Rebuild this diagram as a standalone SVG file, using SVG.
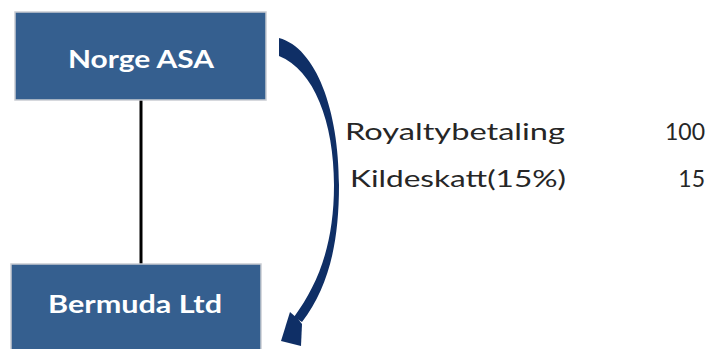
<svg xmlns="http://www.w3.org/2000/svg" width="708" height="349" viewBox="0 0 708 349">
  <style>
    .box { fill: #355f8f; stroke: #c9ccd2; stroke-width: 1.5; }
    .lbl { font-family: "Lato", "Liberation Sans", sans-serif; font-weight: bold; font-size: 24px; fill: #ffffff; text-anchor: middle; }
    .txt { font-family: "Lato", "Liberation Sans", sans-serif; font-size: 23px; fill: #262626; }
    .num { text-anchor: end; }
  </style>
  <rect width="708" height="349" fill="#ffffff"/>

  <g id="connectors">
    <!-- ownership link -->
    <line x1="141" y1="100" x2="141" y2="265" stroke="#000000" stroke-width="3"/>
    <!-- payment arrow: tapered curved stroke -->
    <path d="M279 38 C316 48 339 110 339 185 C339 245 328 288 302 322 L294 317 C318 284 334 245 334 185 C334 122 314 70 279 56 Z" fill="#0f2f66"/>
    <polygon points="281,341 290,312 298,319 302,324 301,346" fill="#0f2f66"/>
  </g>

  <g id="norge-asa">
    <rect class="box" x="15" y="12" width="251" height="88"/>
    <text class="lbl" x="141" y="68" textLength="146" lengthAdjust="spacingAndGlyphs">Norge ASA</text>
  </g>

  <g id="bermuda-ltd">
    <rect class="box" x="11" y="264" width="250" height="90"/>
    <text class="lbl" x="135" y="313" textLength="174" lengthAdjust="spacingAndGlyphs">Bermuda Ltd</text>
  </g>

  <g id="amounts">
    <text class="txt" x="345" y="140" textLength="220" lengthAdjust="spacingAndGlyphs">Royaltybetaling</text>
    <text class="txt num" x="705" y="140">100</text>
    <text class="txt" x="350" y="187" textLength="216" lengthAdjust="spacingAndGlyphs">Kildeskatt(15%)</text>
    <text class="txt num" x="705" y="187">15</text>
  </g>
</svg>
